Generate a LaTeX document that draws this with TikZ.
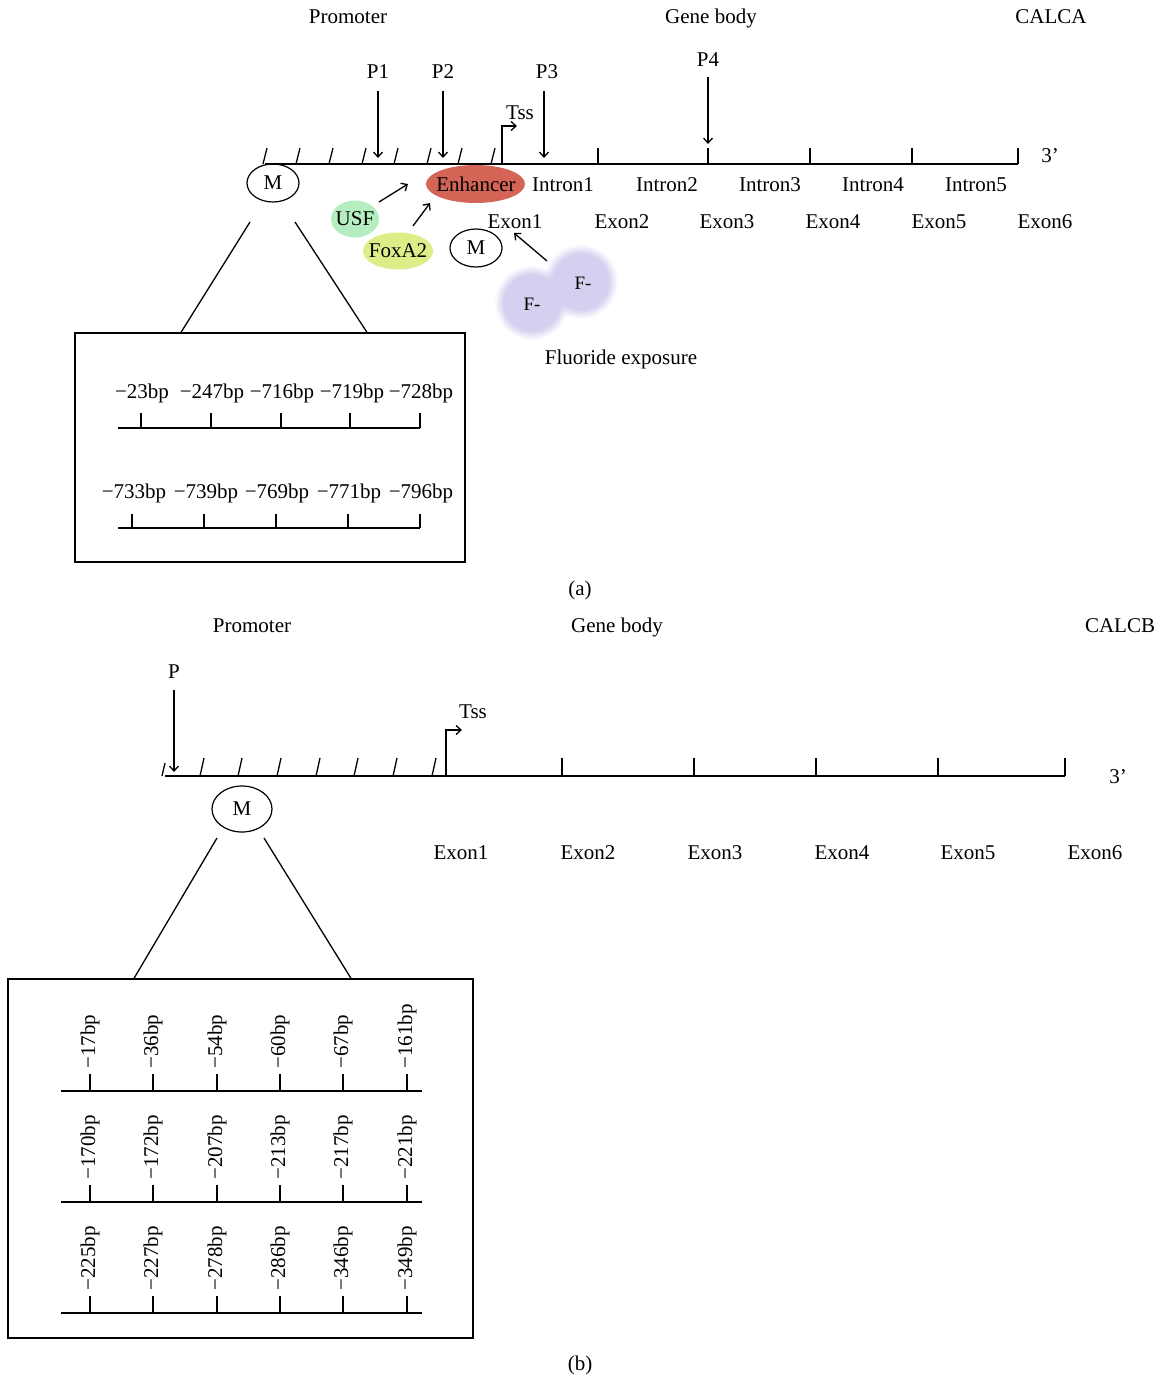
\documentclass[tikz,border=0pt]{standalone}
\usepackage{fontspec}
\setmainfont{Liberation Serif}
\usetikzlibrary{arrows.meta,shapes.geometric}
\definecolor{enh}{RGB}{212,100,85}
\definecolor{usf}{RGB}{180,238,192}
\definecolor{foxa}{RGB}{221,238,136}
\definecolor{lav}{RGB}{214,208,240}
\begin{document}
\begin{tikzpicture}[x=1pt,y=-1pt, line width=1.3pt,
  >={Straight Barb[length=5pt,width=9pt]},
  lbl/.style={font=\fontsize{21}{25}\selectfont, inner sep=0pt, anchor=base},
  small/.style={font=\fontsize{19}{22}\selectfont, inner sep=0pt, anchor=base},
  oval/.style={ellipse, draw, line width=1.2pt, inner sep=0pt, font=\fontsize{21}{25}\selectfont},
  ovtext/.style={inner sep=0pt, font=\fontsize{21}{25}\selectfont},
  vlab/.style={font=\fontsize{21}{25}\selectfont, inner sep=0pt, rotate=90, anchor=west}]
\useasboundingbox (0,0) rectangle (1161,1376);

% ================= (a) =================
\node[lbl] (promA) at (348,23) {Promoter};
\node[lbl] (gbA) at (711,23) {Gene body};
\node[lbl] (calca) at (1051,23) {CALCA};

% main line
\coordinate (lineAs) at (265,164);
\coordinate (lineAe) at (1018,164);
\draw (lineAs) -- (lineAe);
\foreach \x in {263,296,329,362,394,427,458,491}
  \draw (\x,164) -- ++(4,-16);
\foreach \x in {598,708,810,912,1018}
  \draw (\x,164) -- (\x,148);

% Tss
\coordinate (tssA0) at (502,164);
\coordinate (tssA1) at (502,126);
\coordinate (tssA2) at (517,126);
\draw[->] (tssA0) -- (tssA1) -- (tssA2);
\node[lbl] (tssA) at (520,119) {Tss};

% P arrows
\node[lbl] (p1) at (378,78) {P1};
\node[lbl] (p2) at (443,78) {P2};
\node[lbl] (p3) at (547,78) {P3};
\node[lbl] (p4) at (708,66) {P4};
\coordinate (p1a) at (378,91); \coordinate (p1b) at (378,158);
\coordinate (p2a) at (443,91); \coordinate (p2b) at (443,158);
\coordinate (p3a) at (544,91); \coordinate (p3b) at (544,158);
\coordinate (p4a) at (708,77); \coordinate (p4b) at (708,144);
\draw[->] (p1a) -- (p1b);
\draw[->] (p2a) -- (p2b);
\draw[->] (p3a) -- (p3b);
\draw[->] (p4a) -- (p4b);

\node[lbl] (threeA) at (1050,162) {3’};

% F- blobs
\foreach \r/\o in {37/0.15,35/0.25,33/0.35,31/0.5,29/1}{
  \fill[lav, opacity=\o] (532,303) circle (\r);
  \fill[lav, opacity=\o] (581,282) circle (\r);
}
\node[small] (f1) at (532,310) {F-};
\node[small] (f2) at (583,289) {F-};

% filled ovals
\fill[enh] (475.5,184) ellipse [x radius=49.5, y radius=19];
\fill[usf] (355,219) ellipse [x radius=24, y radius=18.5];
\fill[foxa] (398,251) ellipse [x radius=35, y radius=18.5];
\node[ovtext] (enh) at (476,184) {Enhancer};
\node[ovtext] (usf) at (355,219) {USF};
\node[ovtext] (foxa) at (398,251) {FoxA2};

% introns / exons
\node[lbl] (i1) at (563,191) {Intron1};
\node[lbl] (i2) at (667,191) {Intron2};
\node[lbl] (i3) at (770,191) {Intron3};
\node[lbl] (i4) at (873,191) {Intron4};
\node[lbl] (i5) at (976,191) {Intron5};
\node[lbl] (e1) at (515,228) {Exon1};
\node[lbl] (e2) at (622,228) {Exon2};
\node[lbl] (e3) at (727,228) {Exon3};
\node[lbl] (e4) at (833,228) {Exon4};
\node[lbl] (e5) at (939,228) {Exon5};
\node[lbl] (e6) at (1045,228) {Exon6};

\node[oval, minimum width=52, minimum height=38] (mA) at (273,183) {M};
\node[oval, minimum width=52, minimum height=38] (mA2) at (476,248) {M};

\coordinate (usfArr) at (379,202); \coordinate (usfTip) at (408,184);
\coordinate (foxArr) at (413,226); \coordinate (foxTip) at (430,203);
\coordinate (fArr) at (547,261); \coordinate (fTip) at (514,233);
\draw[->] (usfArr) -- (usfTip);
\draw[->] (foxArr) -- (foxTip);
\draw[->] (fArr) -- (fTip);

\node[lbl] (fluo) at (621,364) {Fluoride exposure};

% zoom box a
\node[draw, line width=1.3pt, minimum width=390, minimum height=229, inner sep=0pt] (boxA) at (270,447.5) {};
\coordinate (mAl) at (250,222); \coordinate (mAr) at (295,222);
\draw (mAl) -- (boxA.north west -| 181,0);
\draw (mAr) -- (boxA.north west -| 367,0);

\draw (118,428) -- (420,428);
\foreach \x in {141,211,281,350,420} \draw (\x,428) -- (\x,413);
\node[lbl] (a1) at (142,398) {−23bp};
\node[lbl] (a2) at (212,398) {−247bp};
\node[lbl] (a3) at (282,398) {−716bp};
\node[lbl] (a4) at (352,398) {−719bp};
\node[lbl] (a5) at (421,398) {−728bp};

\draw (118,528) -- (420,528);
\foreach \x in {132,204,276,348,420} \draw (\x,528) -- (\x,514);
\node[lbl] (a6) at (134,498) {−733bp};
\node[lbl] (a7) at (206,498) {−739bp};
\node[lbl] (a8) at (277,498) {−769bp};
\node[lbl] (a9) at (349,498) {−771bp};
\node[lbl] (a10) at (421,498) {−796bp};

\node[lbl] (capA) at (580,595) {(a)};

% ================= (b) =================
\node[lbl] (promB) at (252,632) {Promoter};
\node[lbl] (gbB) at (617,632) {Gene body};
\node[lbl] (calcb) at (1120,632) {CALCB};

\coordinate (lineBs) at (165,776);
\coordinate (lineBe) at (1065,776);
\draw (lineBs) -- (lineBe);
\draw (162,776) -- ++(3,-13);
\foreach \x in {200,238,277,316,354,393,432}
  \draw (\x,776) -- ++(4,-18);
\foreach \x in {562,694,816,938,1065}
  \draw (\x,776) -- (\x,758);

\coordinate (tssB0) at (446,776);
\coordinate (tssB1) at (446,730);
\coordinate (tssB2) at (462,730);
\draw[->] (tssB0) -- (tssB1) -- (tssB2);
\node[lbl] (tssB) at (473,718) {Tss};

\node[lbl] (pB) at (174,678) {P};
\coordinate (pBa) at (174,690); \coordinate (pBb) at (174,772);
\draw[->] (pBa) -- (pBb);

\node[lbl] (threeB) at (1118,783) {3’};

\node[oval, minimum width=60, minimum height=46] (mB) at (242,809) {M};

\node[lbl] (b1) at (461,859) {Exon1};
\node[lbl] (b2) at (588,859) {Exon2};
\node[lbl] (b3) at (715,859) {Exon3};
\node[lbl] (b4) at (842,859) {Exon4};
\node[lbl] (b5) at (968,859) {Exon5};
\node[lbl] (b6) at (1095,859) {Exon6};

\node[draw, line width=1.3pt, minimum width=465, minimum height=359, inner sep=0pt] (boxB) at (240.5,1158.5) {};
\coordinate (mBl) at (217,838); \coordinate (mBr) at (264,838);
\draw (mBl) -- (boxB.north west -| 134,0);
\draw (mBr) -- (boxB.north west -| 351,0);

\foreach \yy/\la/\lb/\lc/\ld/\le/\lf in
  {1091/17/36/54/60/67/161, 1202/170/172/207/213/217/221, 1313/225/227/278/286/346/349}{
  \draw (61,\yy) -- (422,\yy);
  \foreach \x in {90,153,217,280,343,407} \draw (\x,\yy) -- (\x,\yy-17);
  \node[vlab] at (90,\yy-22) {−\la bp};
  \node[vlab] at (153,\yy-22) {−\lb bp};
  \node[vlab] at (217,\yy-22) {−\lc bp};
  \node[vlab] at (280,\yy-22) {−\ld bp};
  \node[vlab] at (343,\yy-22) {−\le bp};
  \node[vlab] at (407,\yy-22) {−\lf bp};
}

\node[lbl] (capB) at (580,1370) {(b)};
\end{tikzpicture}
\end{document}
